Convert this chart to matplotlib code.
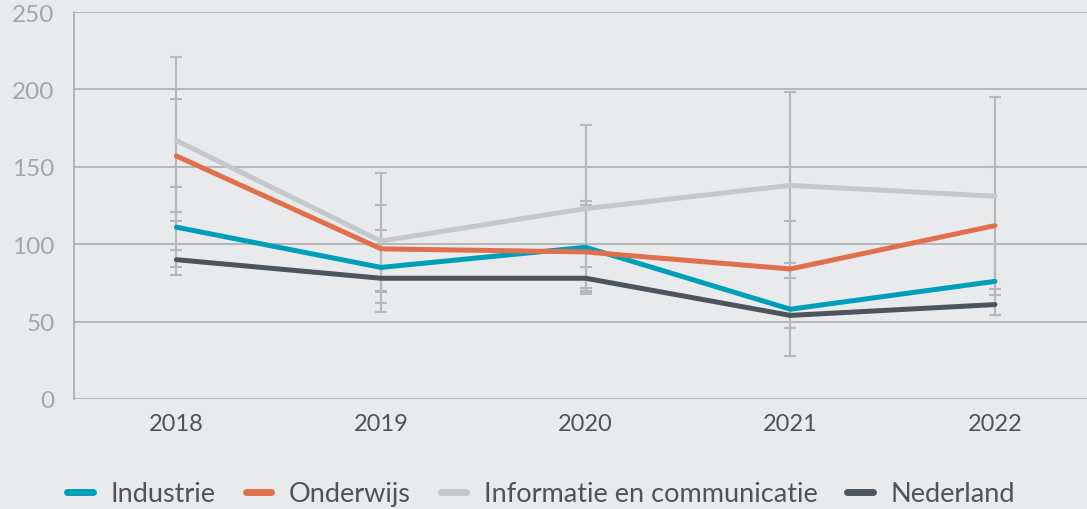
import matplotlib.pyplot as plt
import numpy as np
from matplotlib.lines import Line2D

years = ['2018', '2019', '2020', '2021', '2022']

industrie = [111, 85, 98, 58, 76]
industrie_lo = [85, 62, 70, 28, 54]
industrie_hi = [137, 109, 128, 88, 100]

onderwijs = [157, 97, 95, 84, 112]
onderwijs_lo = [121, 69, 68, 54, 71]
onderwijs_hi = [194, 125, 125, 115, 150]

informatie = [167, 102, 123, 138, 131]
informatie_lo = [115, 56, 69, 78, 67]
informatie_hi = [221, 146, 177, 198, 195]

nederland = [90, 78, 78, 54, 61]
nederland_lo = [80, 70, 72, 46, 54]
nederland_hi = [96, 85, 85, 59, 71]

series = [
    ('Industrie', industrie, industrie_lo, industrie_hi, '#009fb8'),
    ('Onderwijs', onderwijs, onderwijs_lo, onderwijs_hi, '#e0704d'),
    ('Informatie en communicatie', informatie, informatie_lo, informatie_hi, '#c3c8cb'),
    ('Nederland', nederland, nederland_lo, nederland_hi, '#4c555b'),
]

bg = '#e9eaec'
plt.rcParams['font.family'] = ['Lato', 'DejaVu Sans']

fig = plt.figure(figsize=(10.87, 5.10), dpi=100, facecolor=bg)
ax = fig.add_axes([0.0681, 0.2157, 1.0 - 0.0681, 0.9745 - 0.2157])
ax.set_facecolor(bg)

x = np.arange(len(years))

# error bars first, lines on top
for name, vals, lo, hi, col in series:
    v = np.array(vals)
    err = [v - np.array(lo), np.array(hi) - v]
    ax.errorbar(x, v, yerr=err, fmt='none', ecolor='#b4b9bd', elinewidth=1.5,
                capsize=4.5, capthick=1.5, zorder=2)

handles = []
for name, vals, lo, hi, col in series:
    ax.plot(x, vals, color=col, lw=3.6, solid_capstyle='round', zorder=3)
    handles.append(Line2D([0], [0], color=col, lw=5, solid_capstyle='round'))

ax.set_xlim(-0.5, 4.45)
ax.set_ylim(0, 250)
ax.set_yticks([0, 50, 100, 150, 200, 250])
ax.set_xticks(x)
ax.set_xticklabels(years)
ax.grid(axis='y', color='#a9adb1', lw=1.2, zorder=1)
ax.set_axisbelow(True)

for s in ['top', 'right', 'bottom']:
    ax.spines[s].set_visible(False)
ax.spines['left'].set_color('#a9adb1')
ax.spines['left'].set_linewidth(1.2)

ax.tick_params(axis='y', length=0, pad=14, labelsize=17.5, labelcolor='#a3a7ab')
ax.tick_params(axis='x', length=0, pad=10, labelsize=17, labelcolor='#4c555b')

fig.legend(handles, [s[0] for s in series], loc='center', ncol=4,
           bbox_to_anchor=(0.498, 0.03), frameon=False, fontsize=19.5,
           handlelength=0.95, handletextpad=0.65, columnspacing=1.1,
           labelcolor='#4c555b')

fig.savefig('out.png', dpi=100, facecolor=bg)
